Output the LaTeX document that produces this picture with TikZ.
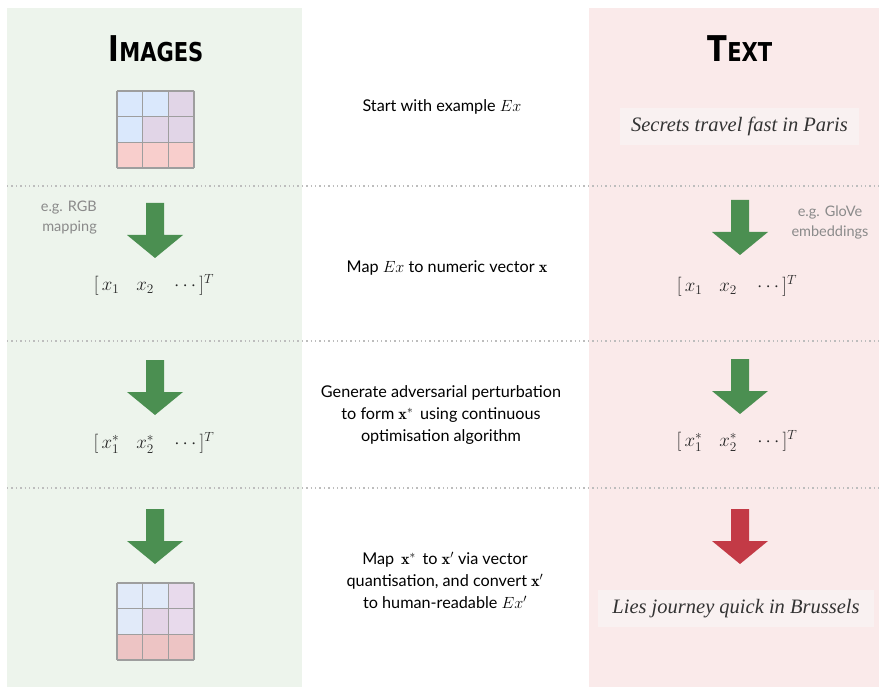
\RequirePackage{fix-cm}
\documentclass[tikz,border=0pt]{standalone}
\usepackage{amsmath}
\usepackage{fontspec}
\newfontfamily\sansf{Lato}
\newfontfamily\titlef{DejaVu Sans Condensed Bold}
\newfontfamily\seriff{Liberation Serif}
\definecolor{leftbg}{HTML}{EDF4EC}
\definecolor{rightbg}{HTML}{FAEAEA}
\definecolor{boxfill}{HTML}{F9F1F1}
\definecolor{arrowgreen}{HTML}{4B8F51}
\definecolor{arrowred}{HTML}{C33A46}
\definecolor{gridline}{HTML}{9E9E9E}
\definecolor{cblue}{HTML}{DAE8FC}
\definecolor{cpurple}{HTML}{E1D5E7}
\definecolor{cred}{HTML}{F8CECC}
\definecolor{dblue}{HTML}{E1EAF9}
\definecolor{dpurple}{HTML}{E4D4E7}
\definecolor{dpurpleb}{HTML}{E8DAEC}
\definecolor{dred}{HTML}{EDC4C4}
\definecolor{notegray}{HTML}{8A8A8A}
\definecolor{dottedgray}{HTML}{BDBDBD}
\tikzset{
  midtext/.style={font=\sansf\fontsize{16.2}{22}\selectfont, text=black, align=center, inner sep=0pt},
  note/.style={font=\sansf\fontsize{14.5}{20}\selectfont, text=notegray, inner sep=0pt},
  sentbox/.style={fill=boxfill, font=\seriff\itshape\fontsize{20.5}{24}\selectfont, text={black!80}, minimum height=37pt, inner sep=0pt},
  vecnode/.style={font=\fontsize{19}{22}\selectfont, text={black!85}, inner sep=0pt},
  titlenode/.style={inner sep=0pt, anchor=base},
  dotline/.style={dottedgray, line width=1.3pt, dash pattern=on 1.4pt off 3pt},
  bigarrow/.pic={
    \path[pic actions] (-9,0) -- (9,0) -- (9,32) -- (28,32) -- (0,55) -- (-28,32) -- (-9,32) -- cycle;
  }
}
\newcommand{\vecrow}[2]{$[\,#1\hspace{17pt}#2\hspace{17pt}\cdots]^T$}
\newcommand{\smallcapstitle}[2]{\scalebox{0.9}[1]{\titlef\fontsize{35.5}{40}\selectfont #1\fontsize{26}{30}\selectfont #2}}
\begin{document}
\begin{tikzpicture}[x=1pt,y=-1pt]
\useasboundingbox (0,0) rectangle (879,687);
% panels
\fill[leftbg] (7,8) rectangle (302,687);
\fill[rightbg] (589,8) rectangle (879,687);
% dotted separators
\draw[dotline] (7,186) -- (879,186);
\draw[dotline] (7,341) -- (879,341);
\draw[dotline] (7,488) -- (879,488);
% titles
\node[titlenode] (timg) at (156,62) {\smallcapstitle{I}{MAGES}};
\node[titlenode] (ttxt) at (740,62) {\smallcapstitle{T}{EXT}};
% top grid
\begin{scope}[shift={(117,91)}]
  \foreach \c [count=\i from 0] in {cblue,cblue,cpurple,cblue,cpurple,cpurple,cred,cred,cred}{
    \pgfmathtruncatemacro{\col}{mod(\i,3)}
    \pgfmathtruncatemacro{\row}{div(\i,3)}
    \fill[\c] (\col*25.67,\row*25.67) rectangle ++(25.67,25.67);
  }
  \foreach \k in {0,1,2,3}{
    \draw[gridline, line width=1.6pt] (\k*25.67,0) -- (\k*25.67,77);
    \draw[gridline, line width=1.6pt] (0,\k*25.67) -- (77,\k*25.67);
  }
\end{scope}
% bottom grid
\begin{scope}[shift={(117,583)}]
  \foreach \c [count=\i from 0] in {dblue,dblue,dpurpleb,dblue,dpurple,dpurpleb,dred,dred,dred}{
    \pgfmathtruncatemacro{\col}{mod(\i,3)}
    \pgfmathtruncatemacro{\row}{div(\i,3)}
    \fill[\c] (\col*25.67,\row*25.67) rectangle ++(25.67,25.67);
  }
  \foreach \k in {0,1,2,3}{
    \draw[gridline, line width=1.6pt] (\k*25.67,0) -- (\k*25.67,77);
    \draw[gridline, line width=1.6pt] (0,\k*25.67) -- (77,\k*25.67);
  }
\end{scope}
% sentence boxes
\node[sentbox, minimum width=239pt] (sent1) at (739.5,126.5) {Secrets travel fast in Paris};
\node[sentbox, minimum width=276pt] (sent2) at (736,608.5) {Lies journey quick in Brussels};
% arrows
\path pic[fill=arrowgreen] at (155,203) {bigarrow};
\path pic[fill=arrowgreen] at (740,200) {bigarrow};
\path pic[fill=arrowgreen] at (155,360) {bigarrow};
\path pic[fill=arrowgreen] at (740,359) {bigarrow};
\path pic[fill=arrowgreen] at (155,509) {bigarrow};
\path pic[fill=arrowred] at (740,509) {bigarrow};
% notes
\node[note, align=right, anchor=east] (n1) at (97,218) {e.g. RGB\\mapping};
\node[note, align=center] (n2) at (830,222) {e.g. GloVe\\embeddings};
% vectors
\node[vecnode] (v1l) at (154,285) {\vecrow{x_1}{x_2}};
\node[vecnode] (v1r) at (737,286) {\vecrow{x_1}{x_2}};
\node[vecnode] (v2l) at (154,443) {\vecrow{x_1^*}{x_2^*}};
\node[vecnode] (v2r) at (737,441) {\vecrow{x_1^*}{x_2^*}};
% middle texts
\node[midtext] (s1) at (442,107) {Start with example $Ex$};
\node[midtext] (s2) at (447,268) {Map $Ex$ to numeric vector $\mathbf{x}$};
\node[midtext] (s3) at (441,415) {Generate adversarial perturbation\\to form $\mathbf{x}^*$\, using continuous\\optimisation algorithm};
\node[midtext] (s4) at (445,580) {Map\, $\mathbf{x}^*$\, to $\mathbf{x}'$ via vector\\quantisation, and convert $\mathbf{x}'$\\to human-readable $Ex'$};
\end{tikzpicture}
\end{document}
